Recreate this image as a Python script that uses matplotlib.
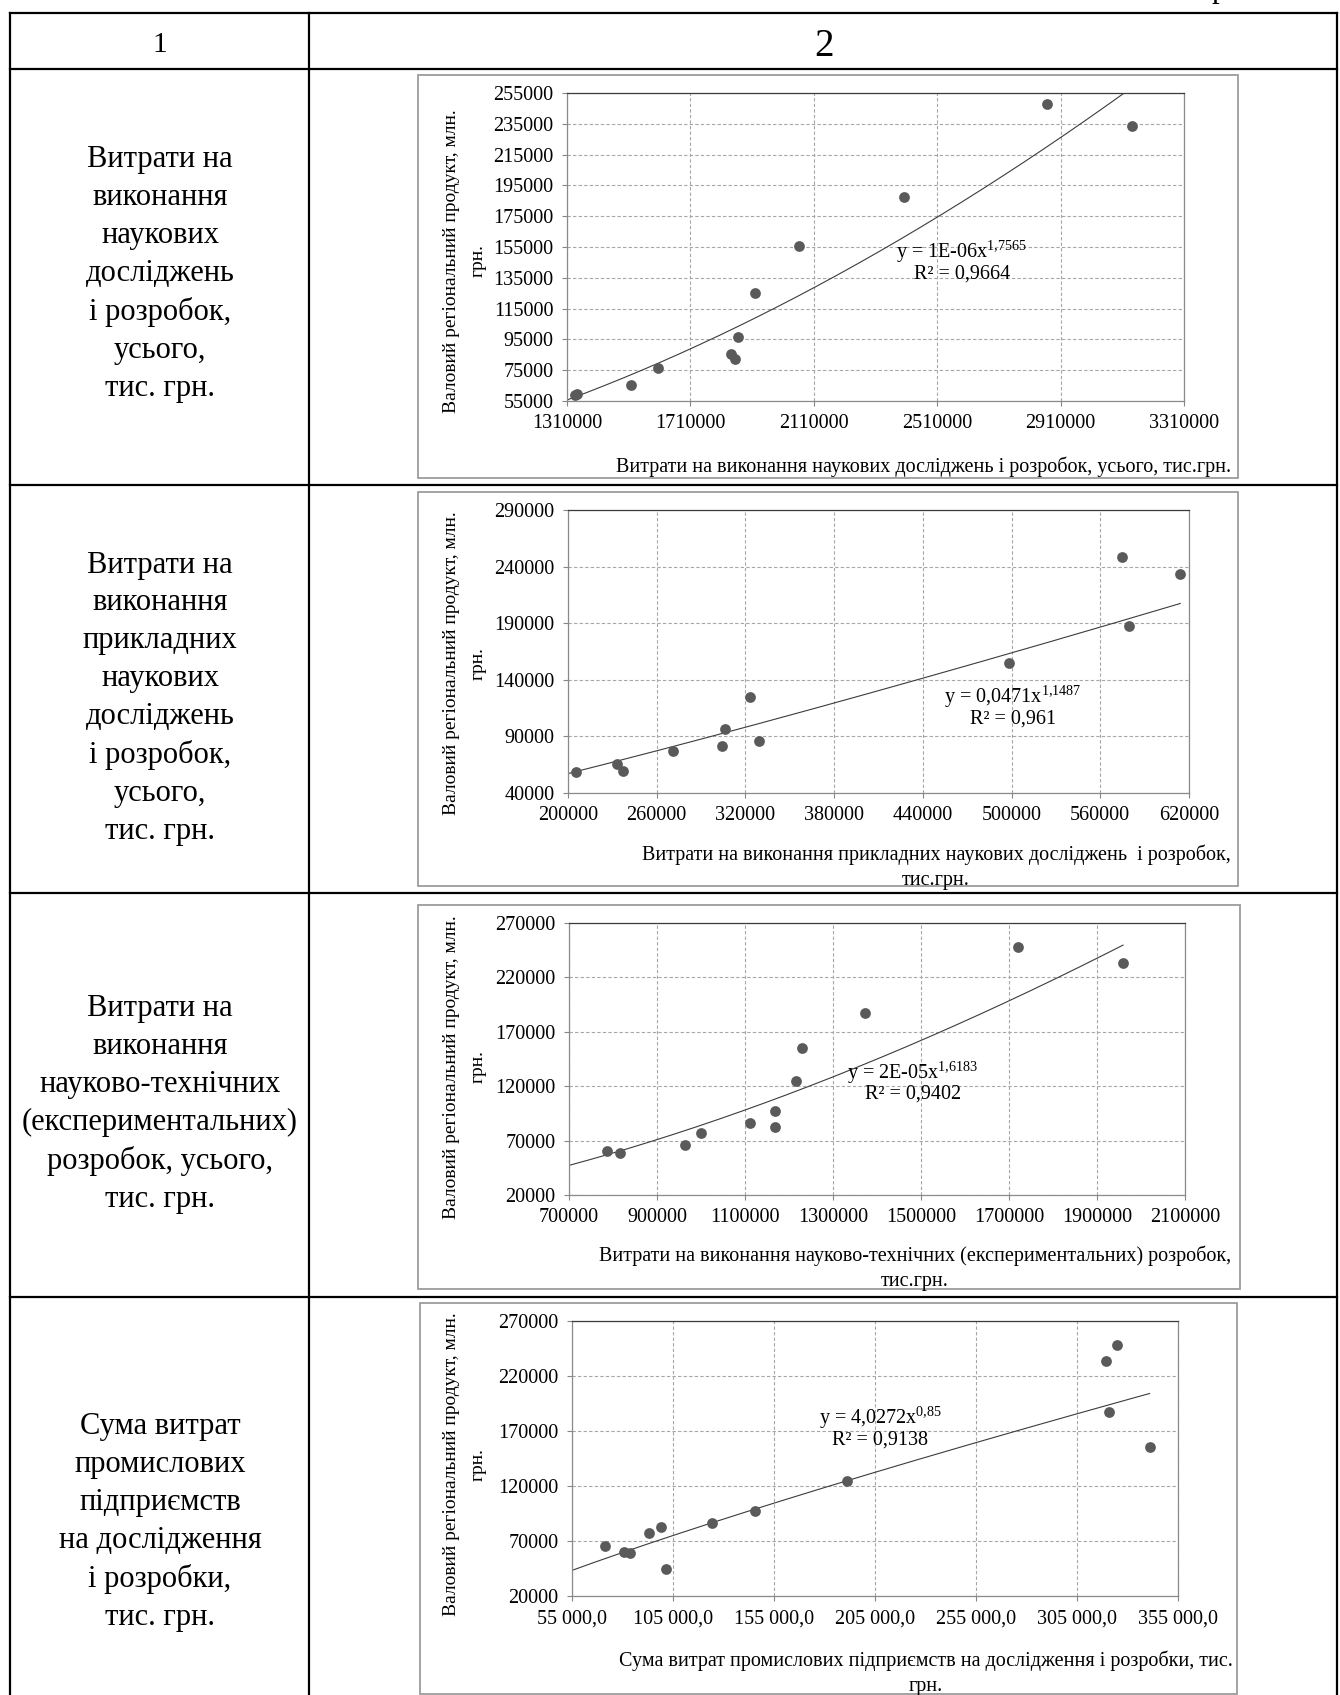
# ===========================================================
# Table with four power-law scatter charts:
# gross regional product vs. R&D spending
# ===========================================================

import numpy as np
import matplotlib
matplotlib.use('Agg')
import matplotlib.pyplot as plt
from matplotlib.lines import Line2D
from matplotlib.patches import Rectangle

plt.rcParams['font.family'] = ['Liberation Serif', 'DejaVu Serif']
plt.rcParams['mathtext.fontset'] = 'custom'
plt.rcParams['mathtext.rm'] = 'Liberation Serif'
plt.rcParams['mathtext.it'] = 'Liberation Serif:italic'

# == Data ===================================================
header_cols = ['1', '2']
row_titles = [
    'Витрати на\nвиконання\nнаукових\nдосліджень\nі розробок,\nусього,\nтис. грн.',
    'Витрати на\nвиконання\nприкладних\nнаукових\nдосліджень\nі розробок,\nусього,\nтис. грн.',
    'Витрати на\nвиконання\nнауково-технічних\n(експериментальних)\nрозробок, усього,\nтис. грн.',
    'Сума витрат\nпромислових\nпідприємств\nна дослідження\nі розробки,\nтис. грн.',
]
y_title = 'Валовий регіональний продукт, млн.\nгрн.'

# Chart 1: total R&D spending
rd_x = [1335000, 1342000, 1517000, 1604600, 1840700, 1855600, 1864700,
        1920900, 2062000, 2402300, 2866000, 3141000]
rd_y = [58900, 59800, 65600, 76700, 85400, 82200, 96700,
        125000, 155500, 187400, 247700, 233600]
rd_power = 1.7565
rd_xticks = [1310000, 1710000, 2110000, 2510000, 2910000, 3310000]
rd_yticks = [55000, 75000, 95000, 115000, 135000, 155000,
             175000, 195000, 215000, 235000, 255000]
rd_eq = ['y = 1E-06x$^{1{,}7565}$', 'R² = 0,9664']
rd_xlabel = 'Витрати на виконання наукових досліджень і розробок, усього, тис.грн.'

# Chart 2: applied research
ap_x = [205200, 233100, 237100, 270950, 304000, 305950, 323300, 329000,
        498100, 574500, 579200, 614100]
ap_y = [58500, 65300, 59400, 76800, 81800, 96500, 124400, 85600,
        155100, 248200, 187500, 233500]
ap_power = 1.1487
ap_xticks = [200000, 260000, 320000, 380000, 440000, 500000, 560000, 620000]
ap_yticks = [40000, 90000, 140000, 190000, 240000, 290000]
ap_eq = ['y = 0,0471x$^{1{,}1487}$', 'R² = 0,961']
ap_xlabel = 'Витрати на виконання прикладних наукових досліджень  і розробок,\nтис.грн.'

# Chart 3: experimental developments
ex_x = [785700, 815900, 962700, 1000800, 1111100, 1167500, 1168300,
        1215100, 1228600, 1373000, 1720600, 1959200]
ex_y = [60000, 59050, 65500, 76900, 85800, 96900, 82100,
        124900, 155000, 187600, 248200, 233500]
ex_power = 1.6183
ex_xticks = [700000, 900000, 1100000, 1300000, 1500000, 1700000, 1900000, 2100000]
ex_yticks = [20000, 70000, 120000, 170000, 220000, 270000]
ex_eq = ['y = 2E-05x$^{1{,}6183}$', 'R² = 0,9402']
ex_xlabel = ('Витрати на виконання науково-технічних (експериментальних) розробок,'
             '\nтис.грн.')

# Chart 4: industrial enterprises
ind_x = [71500, 80670, 83600, 92980, 99050, 101650, 124550, 145700,
         191150, 319600, 320700, 324800, 340900]
ind_y = [65400, 59650, 58740, 77200, 82350, 44200, 86000, 96900,
         124700, 234000, 187700, 248200, 155300]
ind_power = 0.85
ind_xticks = [55000, 105000, 155000, 205000, 255000, 305000, 355000]
ind_xticklabels = ['55 000,0', '105 000,0', '155 000,0', '205 000,0',
                   '255 000,0', '305 000,0', '355 000,0']
ind_yticks = [20000, 70000, 120000, 170000, 220000, 270000]
ind_eq = ['y = 4,0272x$^{0{,}85}$', 'R² = 0,9138']
ind_xlabel = 'Сума витрат промислових підприємств на дослідження і розробки, тис.\nгрн.'
# ===========================================================

# == Layout (pixels on the 1340x1695 page) ==================
W, H = 1340, 1695
table_left, col_split, table_right = 10, 309, 1337
row_edges = [13, 69, 485, 893, 1297]
title_centers = [274, 698, 1104, 1522]
chart_font = 14.5


def fx(px):
    return px / W


def fy(py):
    return 1 - py / H


charts = [
    dict(x=rd_x, y=rd_y, power=rd_power, xticks=rd_xticks,
         xticklabels=[str(v) for v in rd_xticks],
         yticks=rd_yticks, eq=rd_eq, xlabel=rd_xlabel,
         box=(418, 75, 1238, 478), plot=(567, 93, 1184, 401),
         eq_pos=(962, 252, 273), xlabel_pos=(924, 467), ylabel_shift=14),
    dict(x=ap_x, y=ap_y, power=ap_power, xticks=ap_xticks,
         xticklabels=[str(v) for v in ap_xticks],
         yticks=ap_yticks, eq=ap_eq, xlabel=ap_xlabel,
         box=(418, 492, 1238, 886), plot=(568, 510, 1189, 793),
         eq_pos=(1013, 697, 718), xlabel_pos=(936, 867), ylabel_shift=12),
    dict(x=ex_x, y=ex_y, power=ex_power, xticks=ex_xticks,
         xticklabels=[str(v) for v in ex_xticks],
         yticks=ex_yticks, eq=ex_eq, xlabel=ex_xlabel,
         box=(418, 905, 1240, 1289), plot=(569, 923, 1185, 1195),
         eq_pos=(913, 1073, 1093), xlabel_pos=(915, 1268), ylabel_shift=8),
    dict(x=ind_x, y=ind_y, power=ind_power, xticks=ind_xticks,
         xticklabels=ind_xticklabels,
         yticks=ind_yticks, eq=ind_eq, xlabel=ind_xlabel,
         box=(420, 1303, 1237, 1694), plot=(572, 1321, 1178, 1596),
         eq_pos=(880, 1418, 1439), xlabel_pos=(926, 1673), ylabel_shift=6),
]
# ===========================================================


# == Plot one chart =========================================
def draw_chart(fig, c):
    '''
    Draws one Excel-like scatter chart with a power trendline
    inside its light gray frame.
    '''
    # Outer chart frame
    l, t, r, b = c['box']
    fig.add_artist(Rectangle((fx(l), fy(b)), (r - l) / W, (b - t) / H,
                             fill=False, ec='#9c9c9c', lw=1.3))
    # Plot area
    l, t, r, b = c['plot']
    ax = fig.add_axes([fx(l), fy(b), (r - l) / W, (b - t) / H])
    ax.set_xlim(c['xticks'][0], c['xticks'][-1])
    ax.set_ylim(c['yticks'][0], c['yticks'][-1])
    ax.set_xticks(c['xticks'])
    ax.set_xticklabels(c['xticklabels'])
    ax.set_yticks(c['yticks'])
    ax.set_yticklabels([str(v) for v in c['yticks']])
    ax.tick_params(direction='out', length=3.6, width=0.8, color='#868686',
                   labelsize=chart_font, pad=6)
    ax.grid(True, ls=(0, (3, 2)), color='#a6a6a6', lw=0.8)
    ax.set_axisbelow(True)
    for side in ('left', 'bottom', 'right'):
        ax.spines[side].set_color('#8a8a8a')
        ax.spines[side].set_linewidth(0.9)
    ax.spines['top'].set_color('#3a3a3a')
    ax.spines['top'].set_linewidth(0.9)

    # Points
    x = np.array(c['x'], dtype=float)
    y = np.array(c['y'], dtype=float)
    ax.scatter(x, y, s=60, color='#5a5a5a', linewidths=0, zorder=3, clip_on=False)

    # Power trendline: exponent from the chart label, the factor
    # fitted in log-log space (the line goes through the mean point)
    b_exp = c['power']
    ln_a = np.mean(np.log(y)) - b_exp * np.mean(np.log(x))
    xs = np.linspace(c['xticks'][0], x.max(), 300)
    ax.plot(xs, np.exp(ln_a) * xs ** b_exp, color='#3c3c3c', lw=0.8, zorder=2)

    # Equation label
    cx, y1, y2 = c['eq_pos']
    fig.text(fx(cx), fy(y1 + 6), c['eq'][0], ha='center', va='baseline',
             fontsize=chart_font)
    fig.text(fx(cx), fy(y2 + 6), c['eq'][1], ha='center', va='baseline',
             fontsize=chart_font)

    # Axis titles
    fig.text(fx(465), fy((t + b) / 2 + c['ylabel_shift']), y_title, rotation=90,
             ha='center', va='center', multialignment='center', linespacing=1.75,
             fontsize=14)
    lx, ly = c['xlabel_pos']
    fig.text(fx(lx), fy(ly), c['xlabel'], ha='center', va='center',
             multialignment='center', linespacing=1.45, fontsize=chart_font)
    return ax
# ===========================================================


if __name__ == '__main__':
    fig = plt.figure(figsize=(W / 100, H / 100), dpi=100)

    # == Table grid =========================================
    for yy in row_edges:
        fig.add_artist(Line2D([fx(table_left), fx(table_right)], [fy(yy), fy(yy)],
                              color='black', lw=1.6))
    for xx in (table_left, col_split, table_right):
        fig.add_artist(Line2D([fx(xx), fx(xx)], [fy(row_edges[0]), fy(H + 5)],
                              color='black', lw=1.6))

    # Descender of a letter from the line above the table
    fig.text(fx(1219), fy(-3), 'р', ha='center', va='baseline', fontsize=22)

    # Header
    fig.text(fx(160), fy(52), header_cols[0], ha='center', va='baseline', fontsize=21)
    fig.text(fx(824), fy(56), header_cols[1], ha='center', va='baseline', fontsize=28)

    # Left column
    for title, cy in zip(row_titles, title_centers):
        fig.text(fx(160), fy(cy), title, ha='center', va='center',
                 multialignment='center', linespacing=1.40, fontsize=22)

    # == Charts =============================================
    for c in charts:
        draw_chart(fig, c)

    fig.savefig('out.png', dpi=100)
